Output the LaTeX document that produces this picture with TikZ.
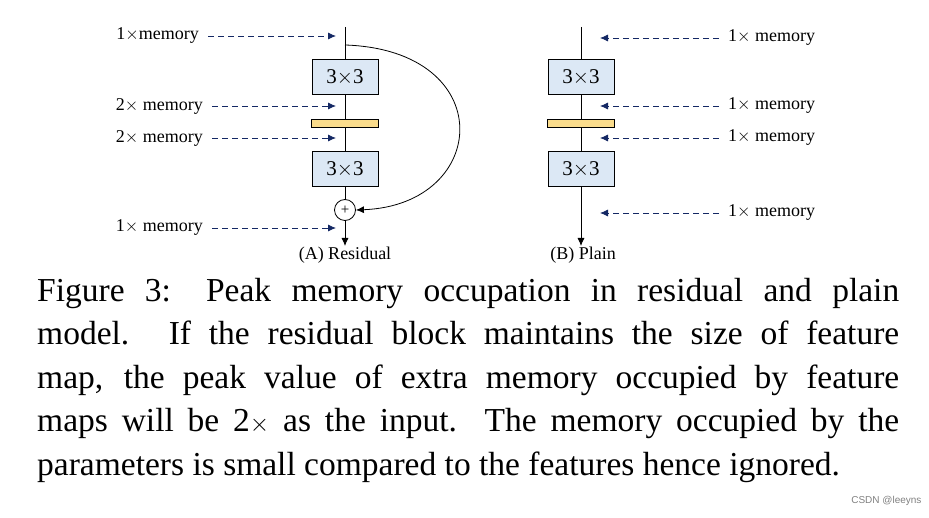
\documentclass[tikz,border=0pt]{standalone}
\usepackage{fontspec}
\setmainfont{Liberation Serif}
\newfontfamily\wmfont{Liberation Sans}
\usetikzlibrary{arrows.meta}
\definecolor{boxfill}{RGB}{220,232,245}
\definecolor{barfill}{RGB}{250,220,140}
\definecolor{dashblue}{RGB}{20,40,100}
\begin{document}
\begin{tikzpicture}[x=1pt,y=-1pt,
  conv/.style={draw,thick,fill=boxfill,minimum width=66pt,minimum height=35pt,inner sep=0pt,font=\fontsize{21}{21}\selectfont},
  bar/.style={draw,thick,fill=barfill,minimum width=67pt,minimum height=8pt,inner sep=0pt},
  mem/.style={font=\fontsize{18}{18}\selectfont,inner sep=1pt},
  memarrow/.style={dashed,dash pattern=on 6pt off 4pt,dashblue,thick,-{Latex[length=8pt,width=7pt]},shorten <=8pt},
  flow/.style={thick,-{Latex[length=8pt,width=7pt]}},
  lbl/.style={font=\fontsize{18}{18}\selectfont}]
\useasboundingbox (0,0) rectangle (929,518);
% Residual
\coordinate (rtop) at (345,27);
\coordinate (rsplit) at (345,45);
\node[conv] (r1) at (345,77) {3$\times$3};
\node[bar] (rb) at (345,123) {};
\node[conv] (r2) at (345,169) {3$\times$3};
\node[draw,circle,thick,minimum size=21pt,inner sep=0pt,font=\fontsize{15}{15}\selectfont] (plus) at (345,210) {+};
\coordinate (rend) at (345,246);
\draw[thick] (rtop) -- (r1) -- (rb) -- (r2) -- (plus);
\draw[flow] (plus) -- (rend);
\draw[thick,-{Latex[length=8pt,width=7pt]}] (rsplit) .. controls (500,50) and (490,205) .. (plus.east);
\node[lbl] (la) at (345,255) {(A) Residual};
\node[mem,anchor=east] (m1) at (200,36) {1$\times$memory};
\node[mem,anchor=east] (m2) at (204,106) {2$\times$ memory};
\node[mem,anchor=east] (m3) at (204,138) {2$\times$ memory};
\node[mem,anchor=east] (m4) at (204,228) {1$\times$ memory};
\coordinate (e1) at (336,36);\coordinate (e2) at (336,106);\coordinate (e3) at (336,138);\coordinate (e4) at (336,228);
\foreach \i in {1,...,4} \draw[memarrow] (m\i) -- (e\i);
% Plain
\coordinate (ptop) at (581,27);
\node[conv] (p1) at (581,77) {3$\times$3};
\node[bar] (pb) at (581,123) {};
\node[conv] (p2) at (581,169) {3$\times$3};
\coordinate (pend) at (581,246);
\draw[thick] (ptop) -- (p1) -- (pb) -- (p2);
\draw[flow] (p2) -- (pend);
\node[lbl] (lb) at (583,255) {(B) Plain};
\node[mem,anchor=west] (n1) at (727,38) {1$\times$ memory};
\node[mem,anchor=west] (n2) at (727,106) {1$\times$ memory};
\node[mem,anchor=west] (n3) at (727,138) {1$\times$ memory};
\node[mem,anchor=west] (n4) at (727,213) {1$\times$ memory};
\coordinate (f1) at (600,38);\coordinate (f2) at (600,106);\coordinate (f3) at (600,138);\coordinate (f4) at (600,213);
\foreach \i in {1,...,4} \draw[memarrow] (n\i) -- (f\i);
% caption
\node[anchor=north west,inner sep=0pt,text width=862pt,align=justify,font=\fontsize{33.5}{43.5}\selectfont] (cap) at (37,278)
{\hyphenpenalty=10000 Figure 3: Peak memory occupation in residual and plain\linebreak model. If the residual block maintains the size of feature\linebreak map, the peak value of extra memory occupied by feature\linebreak maps will be 2$\times$ as the input. The memory occupied by the\linebreak parameters is small compared to the features hence ignored.};
\node[anchor=east,text=gray,font=\wmfont\fontsize{10}{10}\selectfont] (wm) at (925,501) {CSDN @leeyns};
\end{tikzpicture}
\end{document}
